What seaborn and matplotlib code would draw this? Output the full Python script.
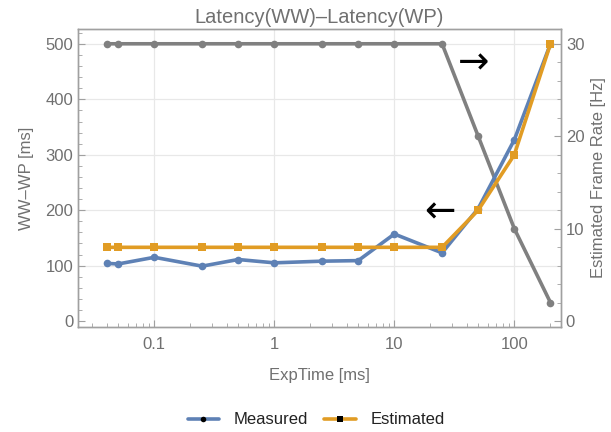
import numpy as np
import pandas as pd
import matplotlib
matplotlib.use("Agg")
import matplotlib.pyplot as plt
import seaborn as sns
from matplotlib.lines import Line2D
from matplotlib.ticker import MultipleLocator, LogLocator, NullFormatter, FixedLocator, FixedFormatter

exp_time = [0.04, 0.05, 0.1, 0.25, 0.5, 1, 2.5, 5, 10, 25, 50, 100, 200]
measured = [104, 103, 115, 99, 111, 105, 108, 109, 157, 123, 203, 327, 500]
estimated = [133, 133, 133, 133, 133, 133, 133, 133, 133, 133, 200, 300, 500]
frame_rate = [30, 30, 30, 30, 30, 30, 30, 30, 30, 30, 20, 10, 2]

x_ticks = [0.1, 1, 10, 100]
x_tick_labels = ["0.1", "1", "10", "100"]
y_ticks = [0, 100, 200, 300, 400, 500]

sns.set_theme(style="white")
plt.rcParams['font.family'] = ['Liberation Sans', 'DejaVu Sans']

BLUE = "#5E81B5"
ORANGE = "#E19C24"
GRAY = "#808080"
TXT = "#707070"
SPINE = "#A0A0A0"
GRID = "#E8E8E8"

df = pd.DataFrame({"ExpTime": exp_time, "Measured": measured,
                   "Estimated": estimated, "FrameRate": frame_rate})

fig = plt.figure(figsize=(6.11, 4.32), dpi=100)
ax = fig.add_axes([78/611, 1 - 327/432, (561-78)/611, (327-29)/432])
ax2 = ax.twinx()

Y1 = (-10.8, 527)
Y2 = (-0.65, 31.6)

sns.lineplot(data=df, x="ExpTime", y="FrameRate", ax=ax2, color=GRAY, lw=2.6,
             marker="o", markersize=5.5, markeredgewidth=0, zorder=3)
sns.lineplot(data=df, x="ExpTime", y="Measured", ax=ax, color=BLUE, lw=2.6,
             marker="o", markersize=5.5, markeredgewidth=0)
sns.lineplot(data=df, x="ExpTime", y="Estimated", ax=ax, color=ORANGE, lw=2.6,
             marker="s", markersize=5.5, markeredgewidth=0)

ax.set_zorder(ax2.get_zorder() + 1)
ax.patch.set_visible(False)

for a in (ax, ax2):
    a.set_xscale("log")
    a.set_xlim(0.0231, 245)
ax.set_ylim(*Y1)
ax2.set_ylim(*Y2)

# grid drawn on the lower axes so it stays beneath every line
for xv in x_ticks:
    ax2.axvline(xv, color=GRID, lw=0.9, zorder=0)
for yv in y_ticks[1:]:
    frac = (yv - Y1[0]) / (Y1[1] - Y1[0])
    ax2.axhline(Y2[0] + frac * (Y2[1] - Y2[0]), color=GRID, lw=0.9, zorder=0)

ax.xaxis.set_major_locator(FixedLocator(x_ticks))
ax.xaxis.set_major_formatter(FixedFormatter(x_tick_labels))
ax.xaxis.set_minor_locator(LogLocator(base=10, subs=np.arange(2, 10)))
ax.xaxis.set_minor_formatter(NullFormatter())
ax.yaxis.set_major_locator(FixedLocator(y_ticks))
ax.yaxis.set_minor_locator(MultipleLocator(20))
ax2.yaxis.set_major_locator(MultipleLocator(10))
ax2.yaxis.set_minor_locator(MultipleLocator(2))

for a in (ax, ax2):
    for s in a.spines.values():
        s.set_color(SPINE)
        s.set_linewidth(1.0)
    a.tick_params(which="major", direction="in", length=5, width=0.8,
                  color=SPINE, labelsize=12, labelcolor=TXT)
    a.tick_params(which="minor", direction="in", length=3, width=0.6, color=SPINE)
ax.tick_params(axis="x", which="both", bottom=True, top=False)
ax.tick_params(axis="y", which="both", left=True, right=False)
ax2.tick_params(axis="y", which="both", right=True, left=False)
ax.tick_params(axis="x", which="major", pad=7)

ax.set_xlabel("ExpTime [ms]", fontsize=12, color=TXT, labelpad=12)
ax.set_ylabel("WW\u2013WP [ms]", fontsize=12, color=TXT, labelpad=8)
ax2.set_ylabel("Estimated Frame Rate [Hz]", fontsize=12, color=TXT, labelpad=5)
ax.set_title("Latency(WW)\u2013Latency(WP)", fontsize=14.5, color=TXT, pad=4)

arrow_pos = [(474, 63, "\u2192"), (440, 212, "\u2190")]
for px, py, ch in arrow_pos:
    fig.text(px / 611, 1 - py / 432, ch, fontsize=27, color="black",
             ha="center", va="center", family="DejaVu Sans")

handles = [
    Line2D([0], [0], color=BLUE, lw=2.6, marker="o", markersize=4,
           markerfacecolor="black", markeredgewidth=0),
    Line2D([0], [0], color=ORANGE, lw=2.6, marker="s", markersize=4,
           markerfacecolor="black", markeredgewidth=0),
]
fig.legend(handles, ["Measured", "Estimated"], loc="center",
           bbox_to_anchor=(316/611, 1 - 420/432), ncol=2, frameon=False,
           fontsize=12, handlelength=1.9, handletextpad=0.85, columnspacing=1.0,
           labelcolor="#222222")
for a in (ax, ax2):
    if a.get_legend() is not None:
        a.get_legend().remove()

fig.savefig("out.png", dpi=100)
